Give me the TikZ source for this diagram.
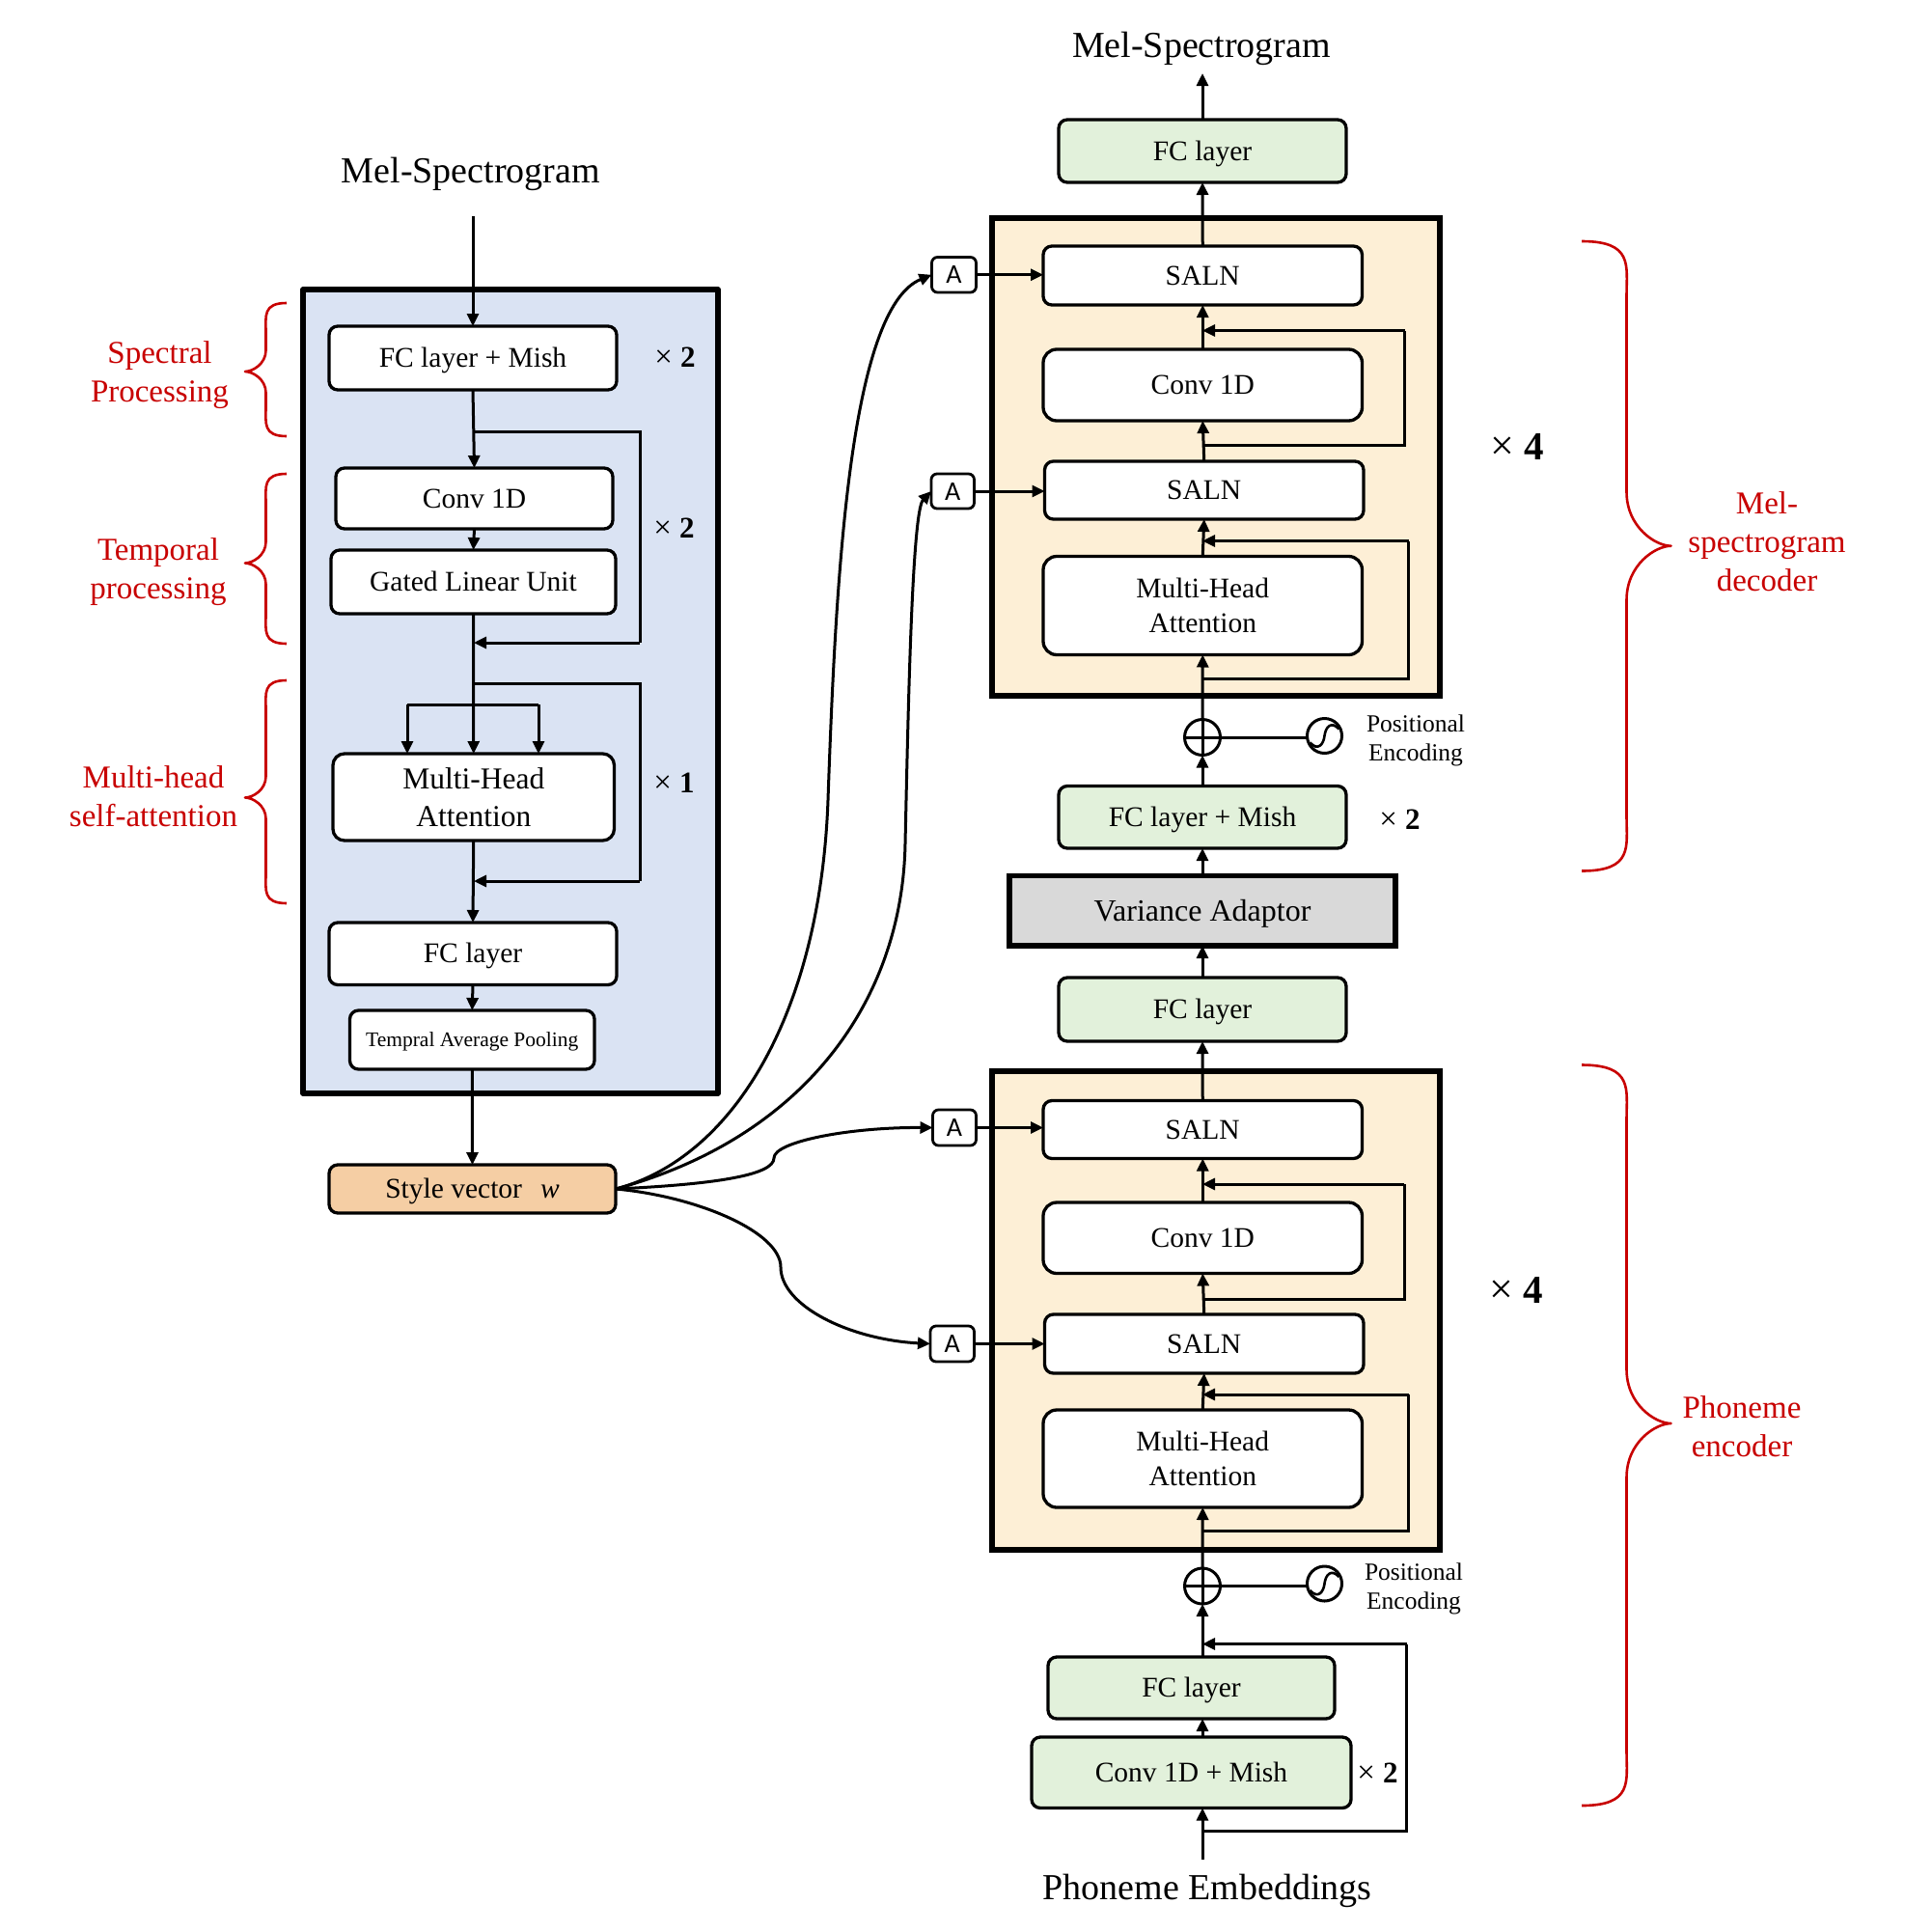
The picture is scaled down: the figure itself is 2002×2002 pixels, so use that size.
\documentclass[tikz,border=0pt]{standalone}
\usepackage{fontspec}
\setmainfont{Liberation Serif}
\newfontfamily\sansA{Carlito}
\usetikzlibrary{arrows.meta,calc}
\definecolor{cblue}{HTML}{DAE3F3}
\definecolor{ccream}{HTML}{FDEFD6}
\definecolor{cgreen}{HTML}{E2F1DB}
\definecolor{corange}{HTML}{F5CEA4}
\definecolor{cgrey}{HTML}{D9D9D9}
\definecolor{cred}{HTML}{C80000}
\newcommand{\fs}[1]{\fontsize{#1}{#1}\selectfont}
\newcommand{\bx}[7][boxw]{%
  \pgfmathsetmacro\cx{(#3+#5)/2}\pgfmathsetmacro\cy{(#4+#6)/2}%
  \pgfmathsetmacro\ww{#5-#3}\pgfmathsetmacro\hh{#6-#4}%
  \node[#1,minimum width=\ww pt,minimum height=\hh pt] (#2) at (\cx,\cy) {#7};}
\newcommand{\brc}[8]{% xend xspine xtip ytop ytip ybot r1 r2
  \draw[brace] (#1,#4) .. controls ($(#2,#4)+(-0.15*#1+0.15*#2,0)$) and (#2,{#4+0.45*#7}) .. (#2,{#4+#7})
    -- (#2,{#5-#8}) .. controls (#2,{#5-0.35*#8}) and ({#3+0.35*(#2-#3)},#5) .. (#3,#5)
    .. controls ({#3+0.35*(#2-#3)},#5) and (#2,{#5+0.35*#8}) .. (#2,{#5+#8})
    -- (#2,{#6-#7}) .. controls (#2,{#6-0.45*#7}) and ($(#2,#6)+(-0.15*#1+0.15*#2,0)$) .. (#1,#6);}
\newcommand{\timesn}[1]{{\fs{33}×}\hspace{8pt}{\fs{31}\textbf{#1}}}
\newcommand{\timesb}[1]{{\fs{44}×}\hspace{10pt}{\fs{41}\textbf{#1}}}
\tikzset{
  basebox/.style={draw=black,line width=3.3pt,rounded corners=9pt,inner sep=0pt,outer sep=0pt,align=center,font=\fs{29.5},text height=19pt,text depth=0pt},
  boxw/.style={basebox,fill=white},
  boxwlg/.style={basebox,fill=white,rounded corners=14pt},
  multi/.style={text height=,text depth=},
  boxg/.style={basebox,fill=cgreen},
  boxo/.style={basebox,fill=corange},
  boxv/.style={draw=black,line width=5.5pt,fill=cgrey,inner sep=0pt,outer sep=0pt,font=\fs{32},text height=21pt,text depth=0pt},
  frameb/.style={draw=black,line width=5.5pt,fill=cblue,line join=round},
  framec/.style={draw=black,line width=6pt,fill=ccream},
  boxa/.style={basebox,line width=2.8pt,rounded corners=6pt,fill=white,font=\sansA\fs{28},text height=18pt},
  arr/.style={draw=black,line width=3pt,-{Triangle[length=13pt,width=12pt]}},
  ln/.style={draw=black,line width=3pt},
  brace/.style={draw=cred,line width=2.6pt,line join=round},
  tlabel/.style={inner sep=0pt,outer sep=0pt,align=center,font=\fs{38}},
  rlabel/.style={inner sep=0pt,outer sep=0pt,align=center,text=cred,font=\fs{33}},
  mult/.style={inner sep=0pt,outer sep=0pt},
  plabel/.style={inner sep=0pt,outer sep=0pt,align=center,font=\fs{25.5}},
  plus/.style={circle,draw=black,line width=3pt,minimum size=37pt,inner sep=0pt,outer sep=0pt,
    path picture={\draw[line width=3pt] (path picture bounding box.north)--(path picture bounding box.south)
      (path picture bounding box.west)--(path picture bounding box.east);}},
  sine/.style={circle,draw=black,line width=3pt,minimum size=36pt,fill=white,inner sep=0pt,outer sep=0pt,
    path picture={\draw[line width=2.6pt,shift={(path picture bounding box.center)}]
      (-15pt,-7pt) .. controls (-7pt,-16pt) and (-1pt,-9pt) .. (0pt,0pt)
      .. controls (1pt,9pt) and (7pt,16pt) .. (15pt,7pt);}},
}
\begin{document}
\begin{tikzpicture}[x=1pt,y=-1pt]
\useasboundingbox (0,0) rectangle (2002,2002);
\fill[white] (0,0) rectangle (2002,2002);

%% ---------- left panel
\node[tlabel] (melL) at (488,180) {Mel-Spectrogram};
\coordinate (frBa) at (314,300);
\coordinate (frBb) at (744,1133);
\draw[frameb] (frBa) rectangle (frBb);
\coordinate (inL) at (490,224);
\bx{fcm}{341}{338}{639}{404}{FC layer + Mish}
\bx{conv}{348}{485}{635}{548}{Conv 1D}
\bx{glu}{343}{570}{638}{636}{Gated Linear Unit}
\bx[boxw,multi,rounded corners=12pt,font=\fs{31.5}]{mha}{345}{781}{636.5}{871}{Multi-Head\\[7pt]Attention}
\bx{fcl}{341}{956}{639}{1020.5}{FC layer}
\bx[boxw,font=\fs{21.5},text height=14pt]{tap}{362.5}{1047}{616}{1108}{Tempral Average Pooling}
\bx[boxo]{style}{341}{1207}{638}{1257}{Style vector\hspace{19pt}\textit{w}}

\draw[arr] (inL) -- (fcm.north);
\draw[arr] (fcm.south) -- (conv.north);
\draw[arr] (conv.south) -- (glu.north);
\draw[arr] (glu.south) -- (mha.north);
\draw[arr] (mha.south) -- (fcl.north);
\draw[arr] (fcl.south) -- (tap.north);
\draw[arr] (tap.south) -- (style.north);

\coordinate (s1a) at (491,447); \coordinate (s1b) at (663,447);
\coordinate (s1c) at (663,666); \coordinate (s1d) at (491,666);
\draw[ln] (s1a) -- (s1b) -- (s1c);
\draw[arr] (s1c) -- (s1d);
\coordinate (s2a) at (491,708.5); \coordinate (s2b) at (663,708.5);
\coordinate (s2c) at (663,913); \coordinate (s2d) at (491,913);
\draw[ln] (s2a) -- (s2b) -- (s2c);
\draw[arr] (s2c) -- (s2d);
\coordinate (h0) at (422,730); \coordinate (h1) at (558,730);
\coordinate (h0e) at (422,781); \coordinate (h1e) at (558,781);
\draw[ln] (h0) -- (h1);
\draw[arr] (h0) -- (h0e);
\draw[arr] (h1) -- (h1e);

\node[mult] (x1) at (699.5,370) {\timesn{2}};
\node[mult] (x2) at (698.5,547) {\timesn{2}};
\node[mult] (x3) at (698.5,811) {\timesn{1}};

\brc{297}{275.5}{254}{314}{385}{452}{30}{22}
\brc{297}{275.5}{254}{491}{583.5}{667}{30}{22}
\brc{297}{275.5}{254}{705}{826.5}{936}{30}{22}
\node[rlabel] (rsp) at (165.5,389) {Spectral\\[7pt]Processing};
\node[rlabel] (rtp) at (164,592.5) {Temporal\\[7pt]processing};
\node[rlabel] (rmh) at (159,825) {Multi-head\\[7pt]self-attention};

%% ---------- decoder
\node[tlabel] (melR) at (1245,50.5) {Mel-Spectrogram};
\coordinate (outT) at (1246,76);
\bx[boxg]{dfc}{1097}{124}{1395}{189}{FC layer}
\draw[framec] (1028,226) rectangle (1492,721);
\bx{ds1}{1081}{255}{1411.5}{316}{SALN}
\bx[boxwlg]{dcv}{1081}{362}{1411.5}{436}{Conv 1D}
\bx{ds2}{1082.5}{478}{1413}{538}{SALN}
\bx[boxwlg,multi]{dmh}{1081}{576.5}{1411.5}{678.5}{Multi-Head\\[6pt]Attention}
\node[plus] (dp) at (1246,764) {};
\node[sine] (ds) at (1372.5,762.5) {};
\bx[boxg]{dfm}{1097}{814.5}{1395}{879}{FC layer + Mish}
\bx[boxv]{va}{1046}{907.5}{1446}{980}{Variance Adaptor}
\bx[boxg]{efc}{1097}{1013}{1395}{1079}{FC layer}

\draw[arr] (dfc.north) -- (outT);
\draw[arr] (ds1.north) -- (dfc.south);
\draw[arr] (dcv.north) -- (ds1.south);
\draw[arr] (ds2.north) -- (dcv.south);
\draw[arr] (dmh.north) -- (ds2.south);
\draw[arr] (dp.north) -- (dmh.south);
\draw[arr] (dfm.north) -- (dp.south);
\draw[arr] (va.north) -- (dfm.south);
\draw[arr] (efc.north) -- (va.south);
\draw[ln] (dp.east) -- (dp.east -| ds.west);

\coordinate (d1a) at (1246,461); \coordinate (d1b) at (1455.5,461);
\coordinate (d1c) at (1455.5,342.5); \coordinate (d1d) at (1246,342.5);
\draw[ln] (d1a) -- (d1b) -- (d1c);
\draw[arr] (d1c) -- (d1d);
\coordinate (d2a) at (1246,703.5); \coordinate (d2b) at (1459.5,703.5);
\coordinate (d2c) at (1459.5,560.5); \coordinate (d2d) at (1246,560.5);
\draw[ln] (d2a) -- (d2b) -- (d2c);
\draw[arr] (d2c) -- (d2d);

\node[plabel] (dpe) at (1467,767.5) {Positional\\[4.5pt]Encoding};
\node[mult] (dx4) at (1572,463) {\timesb{4}};
\node[mult] (dx2) at (1450.5,849.5) {\timesn{2}};
\brc{1639}{1685.5}{1731.5}{250}{565.7}{902.5}{56}{56}
\node[rlabel] (rdec) at (1831,561) {Mel-\\[7pt]spectrogram\\[7pt]decoder};

%% ---------- encoder
\draw[framec] (1028,1110) rectangle (1492,1606);
\bx{es1}{1081}{1140.5}{1411.5}{1200.5}{SALN}
\bx[boxwlg]{ecv}{1081}{1246}{1411.5}{1319.5}{Conv 1D}
\bx{es2}{1082.5}{1362}{1413}{1423}{SALN}
\bx[boxwlg,multi]{emh}{1081}{1461}{1411.5}{1562}{Multi-Head\\[6pt]Attention}
\node[plus] (ep) at (1246,1643.5) {};
\node[sine] (es) at (1372.5,1641) {};
\bx[boxg]{elf}{1086}{1717}{1383}{1781}{FC layer}
\bx[boxg]{ecm}{1069}{1800}{1400}{1873.5}{Conv 1D + Mish}
\node[tlabel] (phon) at (1251,1959) {Phoneme Embeddings};
\coordinate (inB) at (1246,1927);

\draw[arr] (es1.north) -- (efc.south);
\draw[arr] (ecv.north) -- (es1.south);
\draw[arr] (es2.north) -- (ecv.south);
\draw[arr] (emh.north) -- (es2.south);
\draw[arr] (ep.north) -- (emh.south);
\draw[ln] (ep.east) -- (ep.east -| es.west);
\draw[arr] (elf.north -| ep.south) -- (ep.south);
\draw[arr] (ecm.north -| ep.south) -- (elf.south -| ep.south);
\draw[arr] (inB) -- (ecm.south -| inB);

\coordinate (e1a) at (1246,1346); \coordinate (e1b) at (1455,1346);
\coordinate (e1c) at (1455,1227); \coordinate (e1d) at (1246,1227);
\draw[ln] (e1a) -- (e1b) -- (e1c);
\draw[arr] (e1c) -- (e1d);
\coordinate (e2a) at (1246,1586.5); \coordinate (e2b) at (1459.5,1586.5);
\coordinate (e2c) at (1459.5,1445); \coordinate (e2d) at (1246,1445);
\draw[ln] (e2a) -- (e2b) -- (e2c);
\draw[arr] (e2c) -- (e2d);
\coordinate (e3a) at (1246,1897); \coordinate (e3b) at (1457.5,1897);
\coordinate (e3c) at (1457.5,1703.5); \coordinate (e3d) at (1246,1703.5);
\draw[ln] (e3a) -- (e3b) -- (e3c);
\draw[arr] (e3c) -- (e3d);

\node[plabel] (epe) at (1465,1646.5) {Positional\\[4.5pt]Encoding};
\node[mult] (ex4) at (1571,1337) {\timesb{4}};
\node[mult] (ex2) at (1427.5,1837) {\timesn{2}};
\brc{1639}{1685.5}{1731.5}{1103.5}{1475}{1871}{56}{56}
\node[rlabel] (renc) at (1805,1478) {Phoneme\\[7pt]encoder};

%% ---------- adain boxes
\bx[boxa]{a1}{965.5}{266.5}{1011.5}{303}{A}
\bx[boxa]{a2}{965}{491}{1009.5}{527}{A}
\bx[boxa]{a3}{966.5}{1150}{1011.5}{1187}{A}
\bx[boxa]{a4}{964}{1374}{1009.5}{1411}{A}
\draw[arr] (a1.east) -- (a1.east -| ds1.west);
\draw[arr] (a2.east) -- (a2.east -| ds2.west);
\draw[arr] (a3.east) -- (a3.east -| es1.west);
\draw[arr] (a4.east) -- (a4.east -| es2.west);

\coordinate (m1) at (858,829);
\coordinate (m2) at (938,874);
\coordinate (m3) at (802,1200);
\coordinate (m4) at (809,1313);
\draw[arr] (style.east) .. controls (760,1200) and (850,1050) .. (m1)
   .. controls (866,600) and (880,320) .. (a1.west);
\draw[arr] (style.east) .. controls (830,1180) and (935,1040) .. (m2)
   .. controls (941,740) and (945,530) .. (a2.west);
\draw[arr] (style.east) .. controls (746,1227) and (802,1217) .. (m3)
   .. controls (802,1183) and (880,1168) .. (a3.west);
\draw[arr] (style.east) .. controls (724,1240) and (809,1277) .. (m4)
   .. controls (809,1353) and (880,1388) .. (a4.west);
\end{tikzpicture}
\end{document}
